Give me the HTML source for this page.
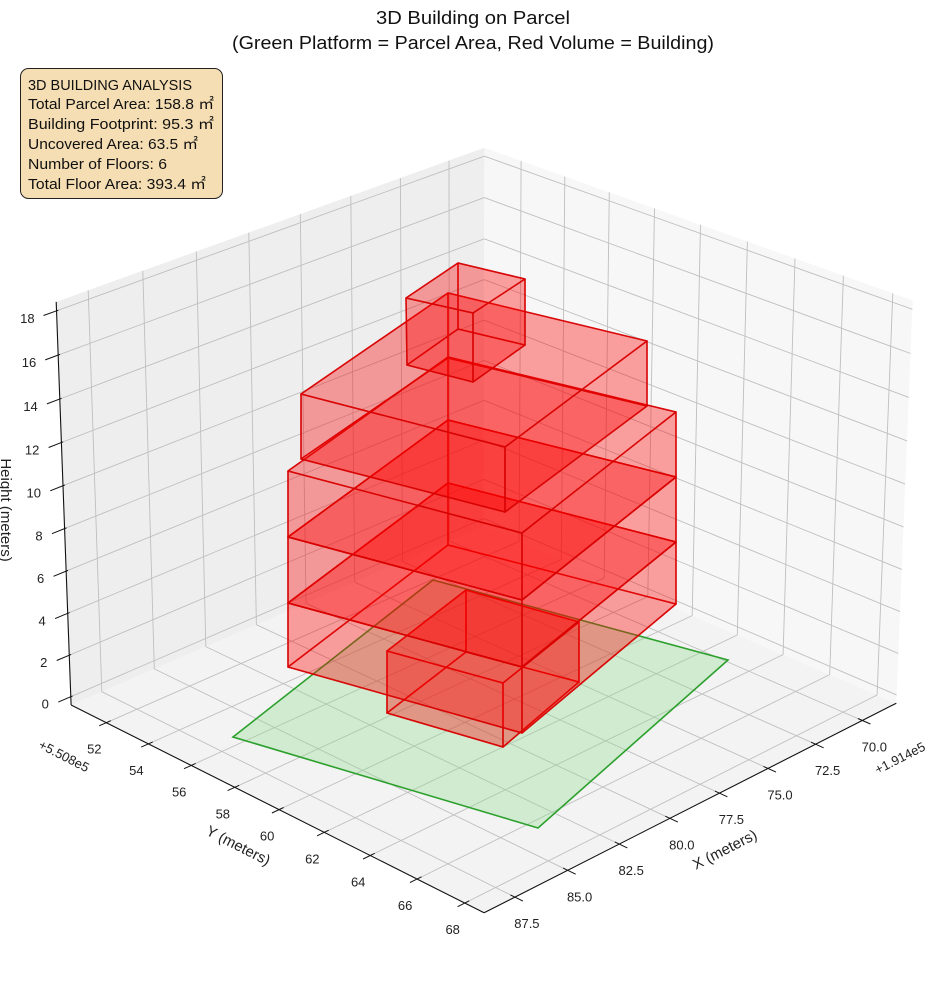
<!DOCTYPE html>
<html><head><meta charset="utf-8"><style>
html,body{margin:0;padding:0;background:#fff;}
svg{display:block;font-family:"Liberation Sans","Noto Sans CJK JP",sans-serif;}
</style></head><body>
<svg id="s" width="944" height="992" viewBox="0 0 944 992" xmlns="http://www.w3.org/2000/svg">
<rect width="944" height="992" fill="#fff"/>
<g id="panes"></g><g id="grid"></g><g id="axes"></g><g id="bld"></g><g id="lbl" font-size="13" fill="#222"></g>
<text x="473" y="24" font-size="18" text-anchor="middle" fill="#111" textLength="194" lengthAdjust="spacingAndGlyphs">3D Building on Parcel</text>
<text x="473" y="49" font-size="18" text-anchor="middle" fill="#111" textLength="482" lengthAdjust="spacingAndGlyphs">(Green Platform = Parcel Area, Red Volume = Building)</text>
<rect x="20.5" y="68.5" width="202" height="130" rx="8" ry="8" fill="#f5deb3" stroke="#222" stroke-width="1"/>
<g font-size="14.5" fill="#111">
<text x="28" y="90" textLength="164" lengthAdjust="spacingAndGlyphs">3D BUILDING ANALYSIS</text>
<text x="28" y="109" textLength="186" lengthAdjust="spacingAndGlyphs">Total Parcel Area: 158.8 ㎡</text>
<text x="28" y="129" textLength="186" lengthAdjust="spacingAndGlyphs">Building Footprint: 95.3 ㎡</text>
<text x="28" y="149" textLength="170" lengthAdjust="spacingAndGlyphs">Uncovered Area: 63.5 ㎡</text>
<text x="28" y="169" textLength="139" lengthAdjust="spacingAndGlyphs">Number of Floors: 6</text>
<text x="28" y="189" textLength="178" lengthAdjust="spacingAndGlyphs">Total Floor Area: 393.4 ㎡</text>
</g>
</svg>
<script>
(function(){
var NS="http://www.w3.org/2000/svg";
function el(parent,tag,attrs,txt){var e=document.createElementNS(NS,tag);for(var k in attrs)e.setAttribute(k,attrs[k]);if(txt!==undefined)e.textContent=txt;document.getElementById(parent).appendChild(e);return e;}
var W={Xmin:68.15,Xmax:88.94,Ymin:50.3,Ymax:68.8,Zmin:-0.4,Zmax:18.4};
function nx(X){return (W.Xmax-X)/(W.Xmax-W.Xmin);}
function ny(Y){return (Y-W.Ymin)/(W.Ymax-W.Ymin);}
function nz(Z){return (Z-W.Zmin)/(W.Zmax-W.Zmin);}
var C=[[0,0,0,71,705],[0,1,0,485,910],[1,1,0,896,700],[0,0,1,56,302],[1,0,1,484,148],[1,1,1,913,301],
[0,0,nz(0),70.5,697],[0,0,nz(18),57,310],[0,ny(52),0,107,723],[0,ny(68),0,465,903],[nx(87.5),1,0,513,900],[nx(70),1,0,863,723]];
var A=[],b=[];
C.forEach(function(c){var X=c[0],Y=c[1],Z=c[2],u=c[3],v=c[4];
A.push([X,Y,Z,1,0,0,0,0,-u*X,-u*Y,-u*Z]);b.push(u);
A.push([0,0,0,0,X,Y,Z,1,-v*X,-v*Y,-v*Z]);b.push(v);});
var n=11,M=[],i,j,k;
for(i=0;i<n;i++){M.push([]);for(j=0;j<=n;j++){var s=0;for(k=0;k<A.length;k++)s+=A[k][i]*(j<n?A[k][j]:b[k]);M[i].push(s);}}
for(i=0;i<n;i++){var p=i;for(k=i+1;k<n;k++)if(Math.abs(M[k][i])>Math.abs(M[p][i]))p=k;var t=M[i];M[i]=M[p];M[p]=t;
for(k=0;k<n;k++){if(k===i)continue;var f=M[k][i]/M[i][i];for(j=i;j<=n;j++)M[k][j]-=f*M[i][j];}}
var h=[];for(i=0;i<n;i++)h.push(M[i][n]/M[i][i]);
function P(x,y,z){var w=h[8]*x+h[9]*y+h[10]*z+1;return [(h[0]*x+h[1]*y+h[2]*z+h[3])/w,(h[4]*x+h[5]*y+h[6]*z+h[7])/w];}
function pts(arr){return arr.map(function(q){return q[0].toFixed(1)+","+q[1].toFixed(1);}).join(" ");}
function line(g,a,b2,st,sw){el(g,"line",{x1:a[0].toFixed(1),y1:a[1].toFixed(1),x2:b2[0].toFixed(1),y2:b2[1].toFixed(1),stroke:st,"stroke-width":sw});}
el("panes","polygon",{points:pts([P(0,0,0),P(0,1,0),P(1,1,0),P(1,0,0)]),fill:"#f3f3f3"});
el("panes","polygon",{points:pts([P(0,0,0),P(1,0,0),P(1,0,1),P(0,0,1)]),fill:"#eeeeee"});
el("panes","polygon",{points:pts([P(1,0,0),P(1,1,0),P(1,1,1),P(1,0,1)]),fill:"#f7f7f7"});
var XT=[70,72.5,75,77.5,80,82.5,85,87.5],YT=[52,54,56,58,60,62,64,66,68],ZT=[0,2,4,6,8,10,12,14,16,18];
var gc="#bfbfbf",gw=0.9;
XT.forEach(function(x){var a=nx(x);line("grid",P(a,0,0),P(a,1,0),gc,gw);line("grid",P(a,0,0),P(a,0,1),gc,gw);});
YT.forEach(function(y){var a=ny(y);line("grid",P(0,a,0),P(1,a,0),gc,gw);line("grid",P(1,a,0),P(1,a,1),gc,gw);});
ZT.forEach(function(z){var a=nz(z);line("grid",P(0,0,a),P(1,0,a),gc,gw);line("grid",P(1,0,a),P(1,1,a),gc,gw);});
line("axes",P(0,0,0),P(0,1,0),"#111",1.1);line("axes",P(0,1,0),P(1,1,0),"#111",1.1);line("axes",P(0,0,0),P(0,0,1),"#111",1.1);
YT.forEach(function(y){var a=ny(y);line("axes",P(-0.016,a,0),P(0.01,a,0),"#111",1);
var q=P(0,a,0);el("lbl","text",{x:(q[0]-12).toFixed(1),y:(q[1]+31).toFixed(1),"text-anchor":"middle"},String(y));});
XT.forEach(function(x){var a=nx(x);line("axes",P(a,0.99,0),P(a,1.018,0),"#111",1);
var q=P(a,1,0);el("lbl","text",{x:(q[0]+12).toFixed(1),y:(q[1]+31).toFixed(1),"text-anchor":"middle"},x.toFixed(1));});
ZT.forEach(function(z){var a=nz(z);line("axes",P(-0.028,0,a),P(0.004,0,a),"#111",1);
var q=P(0,0,a);el("lbl","text",{x:(q[0]-22).toFixed(1),y:(q[1]+12).toFixed(1),"text-anchor":"end"},String(z));});
el("lbl","text",{x:"0",y:"0",transform:"translate(62,760) rotate(27)","text-anchor":"middle"},"+5.508e5");
el("lbl","text",{x:"0",y:"0",transform:"translate(902,762) rotate(-27)","text-anchor":"middle"},"+1.914e5");
el("lbl","text",{x:"0",y:"0",transform:"translate(236,850) rotate(27)","text-anchor":"middle","font-size":"15"},"Y (meters)");
el("lbl","text",{x:"0",y:"0",transform:"translate(727,854) rotate(-27)","text-anchor":"middle","font-size":"15"},"X (meters)");
el("lbl","text",{x:"0",y:"0",transform:"translate(1,510) rotate(90)","text-anchor":"middle","font-size":"15"},"Height (meters)");
el("bld","polygon",{points:"233,737 433,580 728,660 538,828",fill:"rgba(144,220,144,0.35)",stroke:"#2ca02c","stroke-width":"1.6"});
function box(top,bot){
  var faces=[
    [bot[0],bot[1],bot[2],bot[3]],
    [top[0],top[1],bot[1],bot[0]],
    [top[1],top[2],bot[2],bot[1]],
    [top[0],top[3],bot[3],bot[0]],
    [top[3],top[2],bot[2],bot[3]],
    [top[0],top[1],top[2],top[3]]];
  faces.forEach(function(f){el("bld","polygon",{points:f.map(function(q){return q[0]+","+q[1];}).join(" "),fill:"rgba(255,0,0,0.2)",stroke:"rgba(215,0,0,0.8)","stroke-width":"1.5","stroke-linejoin":"round"});});
}
box([[387,651],[466,590],[579,622],[503,683]],[[387,713],[466,652],[579,682],[503,747]]);
var Lx=288,Bx=448,Rx=676,Fx=522;
var lv={L:[471,537,603,667],B:[357,420,483,545],R:[412,477,542,604],F:[533,600,667,733]};
for(var f=2;f>=0;f--){
  box([[Lx,lv.L[f]],[Bx,lv.B[f]],[Rx,lv.R[f]],[Fx,lv.F[f]]],[[Lx,lv.L[f+1]],[Bx,lv.B[f+1]],[Rx,lv.R[f+1]],[Fx,lv.F[f+1]]]);
}
box([[301,394],[448,293],[647,341],[505,447]],[[301,459],[448,358],[647,406],[505,512]]);
box([[406,298],[458,263],[525,279],[473,313]],[[407,365],[458,329],[525,345],[473,382]]);
})();
</script>
</body></html>
